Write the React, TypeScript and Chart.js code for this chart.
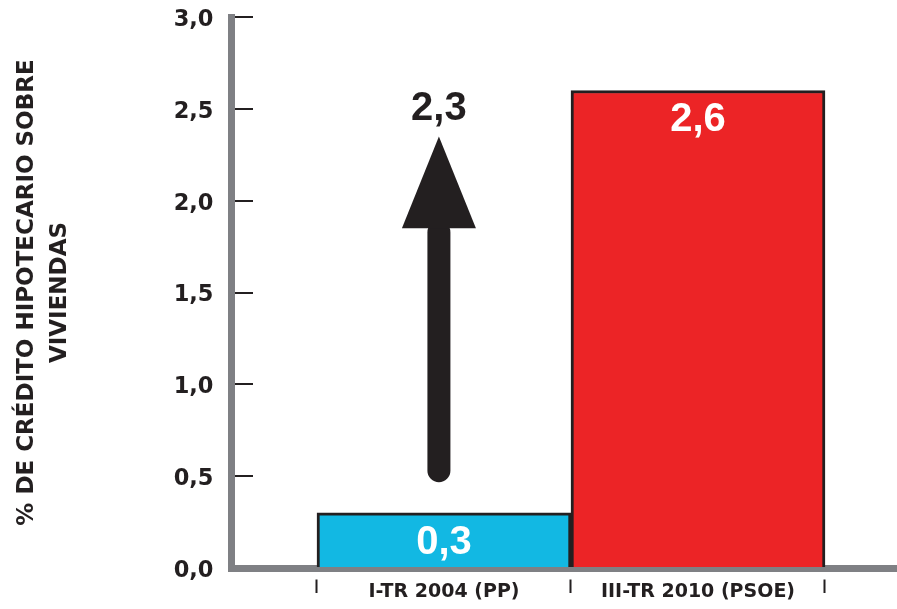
import React, { useEffect, useRef } from 'react';
import { Chart, registerables } from 'chart.js';

Chart.register(...registerables);

// ---- data ----
const categories = ['I-TR 2004 (PP)', 'III-TR 2010 (PSOE)'];
const categoryPositions = [0.5, 1.5];
const values = [0.3, 2.6];
const barColors = ['#12b8e3', '#ec2426'];
const yTicks = [0, 0.5, 1, 1.5, 2, 2.5, 3];
const yTitle = ['% DE CRÉDITO HIPOTECARIO SOBRE', 'VIVIENDAS'];
const arrowLabel = '2,3';
const arrowX = 0.48;
const arrowFrom = 0.53;
const arrowHeadBase = 1.85;
const arrowTip = 2.35;
const arrowLabelValue = 2.5;

const TEXT = '#231f20';
const GRAY = '#7f8084';
const FONT = '"DejaVu Sans", sans-serif';

const fmt = (v: number) => v.toFixed(1).replace('.', ',');

const overlayPlugin = {
  id: 'overlay',
  afterDatasetsDraw(chart: any) {
    const { ctx, scales } = chart;
    const x = scales.x;
    const y = scales.y;
    const meta = chart.getDatasetMeta(0);
    ctx.save();
    ctx.textAlign = 'center';
    ctx.textBaseline = 'middle';
    ctx.font = 'bold 40px "Liberation Sans", Arial, sans-serif';
    ctx.fillStyle = '#ffffff';
    meta.data.forEach((bar: any, i: number) => {
      ctx.fillText(fmt(values[i]), bar.x, bar.y + 30);
    });
    // arrow
    const ax = x.getPixelForValue(arrowX);
    const yBase = y.getPixelForValue(arrowFrom);
    const yHead = y.getPixelForValue(arrowHeadBase);
    const yTipPx = y.getPixelForValue(arrowTip);
    ctx.strokeStyle = TEXT;
    ctx.lineWidth = 23;
    ctx.lineCap = 'round';
    ctx.beginPath();
    ctx.moveTo(ax, yBase);
    ctx.lineTo(ax, yHead + 4);
    ctx.stroke();
    ctx.fillStyle = TEXT;
    ctx.beginPath();
    ctx.moveTo(ax, yTipPx);
    ctx.lineTo(ax - 37, yHead);
    ctx.lineTo(ax + 37, yHead);
    ctx.closePath();
    ctx.fill();
    ctx.fillText(arrowLabel, ax, y.getPixelForValue(arrowLabelValue));
    ctx.restore();
  },
};

export default function App() {
  const canvasRef = useRef<HTMLCanvasElement | null>(null);

  useEffect(() => {
    if (!canvasRef.current) return;
    const chart = new Chart(canvasRef.current, {
      type: 'bar',
      data: {
        datasets: [
          {
            data: categoryPositions.map((p, i) => ({ x: p, y: values[i] })) as any,
            backgroundColor: barColors,
            borderColor: TEXT,
            borderWidth: 3,
            borderSkipped: 'bottom',
            barPercentage: 1,
            categoryPercentage: 1,
          },
        ],
      },
      options: {
        animation: false,
        responsive: true,
        maintainAspectRatio: false,
        layout: { padding: { left: 0, right: 0, top: 17, bottom: 0 } },
        plugins: {
          legend: { display: false },
          tooltip: { enabled: false },
        },
        scales: {
          x: {
            type: 'linear',
            offset: false,
            min: -0.3366,
            max: 2.2835,
            afterBuildTicks: (s: any) => {
              s.ticks = categoryPositions.map((v) => ({ value: v }));
            },
            afterFit: (s: any) => {
              s.height = 41;
              s.paddingLeft = 0;
              s.paddingRight = 0;
            },
            ticks: {
              autoSkip: false,
              maxRotation: 0,
              padding: -12,
              color: TEXT,
              font: { family: FONT, size: 19, weight: 'bold' },
              callback: (_v: any, i: number) => categories[i],
            },
            grid: {
              offset: true,
              drawOnChartArea: false,
              drawTicks: true,
              tickLength: 25,
              tickWidth: 2,
              tickColor: TEXT,
              tickBorderDash: [0, 7.5, 14, 100],
            },
            border: { display: true, color: GRAY, width: 7 },
          },
          y: {
            type: 'linear',
            min: 0,
            max: 3,
            afterBuildTicks: (s: any) => {
              s.ticks = yTicks.map((v) => ({ value: v }));
            },
            afterFit: (s: any) => {
              s.width = 231.5;
              s.paddingTop = 0;
              s.paddingBottom = 0;
            },
            ticks: {
              padding: 18,
              labelOffset: 3,
              color: TEXT,
              font: { family: FONT, size: 22.5, weight: 'bold' },
              callback: (v: any) => fmt(Number(v)),
            },
            grid: {
              drawTicks: false,
              lineWidth: 2,
              color: (c: any) => (c.tick && c.tick.value === 0 ? 'rgba(0,0,0,0)' : TEXT),
            },
            border: { display: true, color: GRAY, width: 7, dash: [18, 3000] },
            title: {
              display: true,
              text: yTitle,
              color: TEXT,
              font: { family: FONT, size: 23, weight: 'bold', lineHeight: 1.45 },
              padding: { top: 10, bottom: 0 },
            },
          },
        },
      } as any,
      plugins: [overlayPlugin],
    });
    return () => chart.destroy();
  }, []);

  return (
    <div style={{ position: 'fixed', left: 0, top: 0, width: 897, height: 609, background: '#ffffff' }}>
      <canvas ref={canvasRef} />
    </div>
  );
}
